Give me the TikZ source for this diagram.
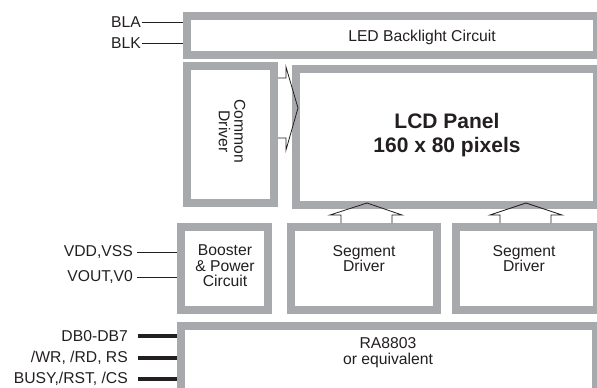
\documentclass[tikz,border=0pt]{standalone}
\usepackage{fontspec}
\setmainfont{Liberation Sans}
\usetikzlibrary{positioning}

\definecolor{panelgray}{RGB}{167,169,172}
\definecolor{inkblack}{RGB}{35,31,32}

\tikzset{
    block/.style={draw=panelgray, line width=8pt, fill=white, inner sep=0pt},
    lbl/.style={inner sep=0pt, text=inkblack, align=center,
        font=\fontsize{15.7}{15.5}\selectfont},
    pinlbl/.style={lbl, anchor=east},
    bigtxt/.style={lbl, font=\bfseries\fontsize{21}{24}\selectfont},
    wire/.style={draw=inkblack, line width=0.9pt},
    bus/.style={draw=inkblack, line width=3.3pt},
    hollow/.style={draw=inkblack, line width=0.8pt, line join=miter},
}

\begin{document}
\begin{tikzpicture}[x=1pt, y=-1pt]

    \clip (0,0) rectangle (597,388);

    % Bloques
        \node[block, minimum width=410pt, minimum height=39pt] (led) at (392,35.5) {};
        \node[block, minimum width=87pt, minimum height=137pt] (common) at (230.5,134.5) {};
        \node[block, minimum width=301pt, minimum height=136pt] (lcd) at (446.5,137) {};
        \node[block, minimum width=87pt, minimum height=83pt] (booster) at (224.5,268.5) {};
        \node[block, minimum width=146pt, minimum height=83pt] (seg1) at (364,268.5) {};
        \node[block, minimum width=141pt, minimum height=83pt] (seg2) at (526.5,268.5) {};
        \node[block, minimum width=415pt, minimum height=70pt] (ra) at (388.5,361) {};

    % Textos de los bloques
        \node[lbl] (ledtxt) at (422,37) {LED Backlight Circuit};
        \node[lbl, rotate=-90] (commontxt) at (232,131.5) {Common\\Driver};
        \node[bigtxt] (lcdtxt) at (447,134.7) {LCD Panel\\160 x 80 pixels};
        \node[lbl] (boostertxt) at (225,266) {Booster\\\& Power\\Circuit};
        \node[lbl] (seg1txt) at (364,258.5) {Segment\\Driver};
        \node[lbl] (seg2txt) at (524,258.5) {Segment\\Driver};
        \node[lbl] (ratxt) at (388,352.5) {RA8803\\or equivalent};

    % Flechas huecas
        \draw[hollow] (common.east |- 0,78) -- ++(8,0) -- ++(0,-11)
            -- ([xshift=6pt]lcd.west |- 0,108) -- (286,150) -- ++(0,-12) -- (common.east |- 0,138);

        \draw[hollow] (seg1.north -| 341,0) -- ++(0,-8) -- ++(-11,0) -- (367,203)
            -- (402,215) -- ++(-10,0) -- (seg1.north -| 392,0);

        \draw[hollow] (seg2.north -| 500,0) -- ++(0,-8) -- ++(-10,0) -- (526,203)
            -- (562,215) -- ++(-11,0) -- (seg2.north -| 551,0);

    % Entradas
        \node[pinlbl] (bla) at (141,22) {BLA};
        \node[pinlbl] (blk) at (141,43) {BLK};
        \draw[wire] ([xshift=1pt]bla.east) -- (bla.east -| led.west);
        \draw[wire] ([xshift=1pt]blk.east) -- (blk.east -| led.west);

        \node[pinlbl] (vdd) at (133,252) {VDD,VSS};
        \node[pinlbl] (vout) at (133,277) {VOUT,V0};
        \draw[wire] ([xshift=4pt]vdd.east) -- (vdd.east -| booster.west);
        \draw[wire] ([xshift=4pt]vout.east) -- (vout.east -| booster.west);

        \node[pinlbl] (db) at (128,336) {DB0-DB7};
        \node[pinlbl] (wr) at (128,358) {/WR, /RD, RS};
        \node[pinlbl] (busy) at (128,379) {BUSY,/RST, /CS};
        \draw[bus] ([xshift=10pt]db.east) -- (db.east -| ra.west);
        \draw[bus] ([xshift=10pt]wr.east) -- (wr.east -| ra.west);
        \draw[bus] ([xshift=10pt]busy.east) -- (busy.east -| ra.west);

\end{tikzpicture}
\end{document}
